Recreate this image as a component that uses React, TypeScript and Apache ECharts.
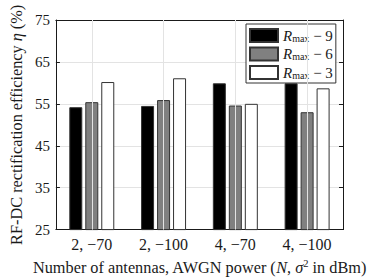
import React, { useEffect, useRef } from "react";
import * as echarts from "echarts";

const categories = ["2, \u221270", "2, \u2212100", "4, \u221270", "4, \u2212100"];
const seriesNames = ["Rmax \u2212 9", "Rmax \u2212 6", "Rmax \u2212 3"];
const minus9 = [54.2, 54.5, 59.9, 59.9];
const minus6 = [55.4, 55.9, 54.6, 53.0];
const minus3 = [60.2, 61.1, 55.0, 58.7];
const barColors = ["#000000", "#808080", "#ffffff"];

const FONT = "Liberation Serif";
const INK = "#1a1a1a";

export default function App() {
  const ref = useRef<HTMLDivElement>(null);
  useEffect(() => {
    document.body.style.margin = "0";
    if (!ref.current) return;
    const chart = echarts.init(ref.current, null, { renderer: "svg" });
    const values = [minus9, minus6, minus3];
    const bars = values.map((d, i) => ({
      name: seriesNames[i],
      type: "bar",
      data: d,
      barWidth: 13,
      barGap: "23%",
      z: 3,
      itemStyle: { color: barColors[i], borderColor: "#333", borderWidth: 1 },
    }));
    chart.setOption({
      animation: false,
      textStyle: { fontFamily: FONT, color: INK },
      grid: { left: 52, right: 31, top: 20, bottom: 45 },
      legend: {
        data: seriesNames,
        orient: "vertical",
        left: 246,
        top: 24,
        padding: [4, 3, 3, 3],
        itemWidth: 28,
        itemHeight: 13,
        itemGap: 3.5,
        backgroundColor: "#fff",
        borderColor: "#333",
        borderWidth: 1,
        icon: "rect",
        selectedMode: false,
        formatter: (name: string) => {
          const num = name.slice(name.length - 1);
          return `{r|R}{s|max}{n| \u2212 ${num}}`;
        },
        textStyle: {
          fontFamily: FONT,
          color: INK,
          rich: {
            r: { fontFamily: FONT, fontSize: 15, fontStyle: "italic", color: INK, lineHeight: 16, verticalAlign: "middle" },
            s: { fontFamily: FONT, fontSize: 10, color: INK, lineHeight: 16, verticalAlign: "middle", padding: [5, 0, 0, 0] },
            n: { fontFamily: FONT, fontSize: 15, color: INK, lineHeight: 16, verticalAlign: "middle" },
          },
        },
      },
      xAxis: [
        {
          type: "category",
          data: categories,
          position: "bottom",
          name: "Number of antennas, AWGN power ({i|N}, {g|\u03c3}{sup|2} in dBm)",
          nameLocation: "middle",
          nameGap: 21,
          nameTextStyle: {
            fontFamily: FONT,
            fontSize: 16.3,
            color: INK,
            rich: {
              i: { fontFamily: FONT, fontSize: 16.3, fontStyle: "italic", color: INK },
              g: { fontFamily: FONT, fontSize: 16.3, fontStyle: "italic", color: INK },
              sup: { fontFamily: FONT, fontSize: 10.5, color: INK, padding: [0, 0, 8, 0] },
            },
          },
          axisLine: { lineStyle: { color: INK, width: 1 } },
          axisTick: { inside: true, alignWithLabel: true, length: 4, lineStyle: { color: INK } },
          axisLabel: { fontFamily: FONT, fontSize: 16, color: INK, margin: 7 },
          splitLine: { show: false },
        },
        {
          type: "category",
          data: categories,
          position: "top",
          axisLine: { lineStyle: { color: INK, width: 1 } },
          axisTick: { inside: true, alignWithLabel: true, length: 4, lineStyle: { color: INK } },
          axisLabel: { show: false },
          splitLine: { show: false },
        },
      ],
      yAxis: [
        {
          type: "value",
          min: 25,
          max: 75,
          interval: 10,
          position: "left",
          name: "RF-DC rectification efficiency {i|\u03b7} (%)",
          nameLocation: "middle",
          nameGap: 31,
          nameTextStyle: {
            fontFamily: FONT,
            fontSize: 16.3,
            color: INK,
            rich: { i: { fontFamily: FONT, fontSize: 16.3, fontStyle: "italic", color: INK } },
          },
          axisLine: { show: true, lineStyle: { color: INK, width: 1 } },
          axisTick: { show: true, inside: true, length: 4, lineStyle: { color: INK } },
          axisLabel: { fontFamily: FONT, fontSize: 15, color: INK, margin: 6 },
          splitLine: { show: true, lineStyle: { color: "#e3e3e3", width: 1 } },
        },
        {
          type: "value",
          min: 25,
          max: 75,
          interval: 10,
          position: "right",
          axisLine: { show: true, lineStyle: { color: INK, width: 1 } },
          axisTick: { show: true, inside: true, length: 4, lineStyle: { color: INK } },
          axisLabel: { show: false },
          splitLine: { show: false },
        },
      ],
      series: [
        {
          name: "grid-v",
          type: "line",
          data: [],
          z: 1,
          silent: true,
          markLine: {
            silent: true,
            symbol: "none",
            label: { show: false },
            lineStyle: { color: "#e3e3e3", width: 1, type: "solid" },
            data: categories.map((c) => ({ xAxis: c })),
          },
        },
        ...bars,
      ],
    });
    return () => chart.dispose();
  }, []);
  return <div ref={ref} style={{ width: 374, height: 280, background: "#fff" }} />;
}
